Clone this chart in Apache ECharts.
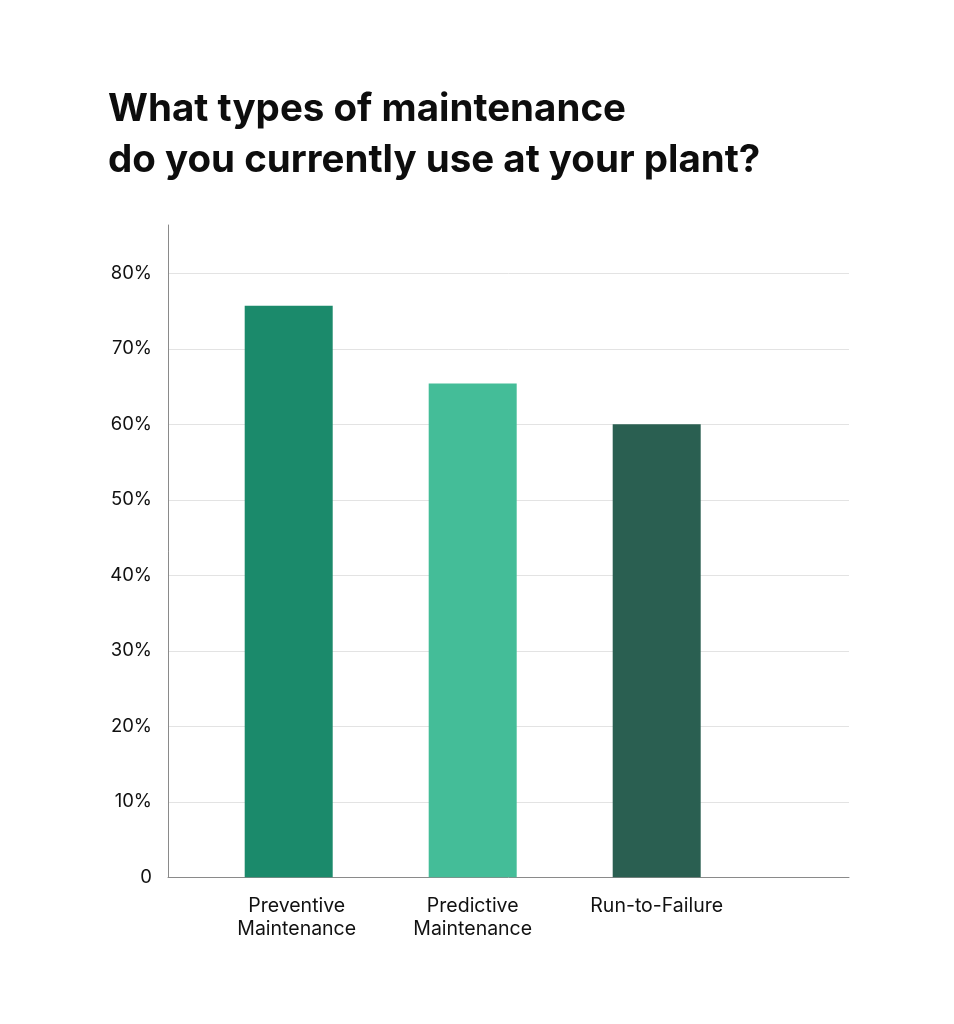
<!DOCTYPE html>
<html>
<head>
<meta charset="utf-8">
<script src="https://cdn.jsdelivr.net/npm/echarts@6/dist/echarts.min.js"></script>
<style>
html,body{margin:0;padding:0;background:#fff;}
#chart{width:954px;height:1024px;}
</style>
</head>
<body>
<div id="chart"></div>
<script>
const titleText = 'What types of maintenance\ndo you currently use at your plant?';
const categories = ['Preventive\nMaintenance', 'Predictive\nMaintenance', 'Run-to-Failure'];
const values = [75.7, 65.4, 60];
const barColors = ['#1B8A6B', '#44BD98', '#2A5F51'];
const yTicks = [0, 10, 20, 30, 40, 50, 60, 70, 80];
const yMax = 86.4;

const chart = echarts.init(document.getElementById('chart'));
const font = 'Inter, "Noto Sans", sans-serif';
const catData = categories.map((c, i) => i === 0 ? { value: c, textStyle: { padding: [0, 0, 0, 16] } } : c);
chart.setOption({
  backgroundColor: '#ffffff',
  animation: false,
  title: {
    text: titleText,
    left: 103,
    top: 79,
    textStyle: { fontFamily: font, fontSize: 38.5, fontWeight: 'bold', color: '#0d0d0d', lineHeight: 51 }
  },
  grid: [
    { left: 168, right: 105, top: 225, bottom: 146.7 },
    { left: 196.7, width: 552, top: 225, bottom: 146.7 }
  ],
  xAxis: [
    {
      gridIndex: 0, type: 'value', min: 0, max: 1,
      axisLine: { show: true, lineStyle: { color: '#8a8a8a', width: 1 } },
      axisTick: { show: false }, axisLabel: { show: false }, splitLine: { show: false }
    },
    {
      gridIndex: 1, type: 'category', data: catData,
      axisLine: { show: false }, axisTick: { show: false },
      axisLabel: { fontFamily: font, fontSize: 19.5, color: '#111111', lineHeight: 23.5, margin: 17, interval: 0 }
    }
  ],
  yAxis: [
    {
      gridIndex: 0, type: 'value', min: 0, max: yMax, interval: 10,
      axisLine: { show: true, lineStyle: { color: '#8a8a8a', width: 1 } },
      axisTick: { show: false },
      axisLabel: {
        fontFamily: font, fontSize: 18.5, color: '#111111', margin: 16, showMaxLabel: false,
        formatter: v => yTicks.indexOf(v) < 0 ? '' : (v === 0 ? '0' : v + '%')
      },
      splitLine: { show: true, showMinLine: false, showMaxLine: false, lineStyle: { color: '#e3e3e3', width: 1 } }
    },
    {
      gridIndex: 1, type: 'value', min: 0, max: yMax, show: false,
      splitLine: { show: false }
    }
  ],
  series: [
    {
      type: 'bar', xAxisIndex: 1, yAxisIndex: 1, barWidth: 88,
      data: values.map((v, i) => ({ value: v, itemStyle: { color: barColors[i] } }))
    }
  ]
});
</script>
</body>
</html>
